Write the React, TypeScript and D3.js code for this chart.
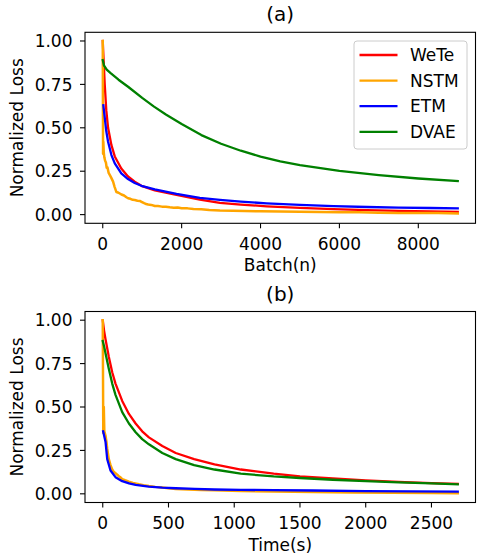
import React from 'react';
import * as d3 from 'd3';

const seriesNames = ['WeTe', 'NSTM', 'ETM', 'DVAE'];
const seriesColors = ['#ff0000', '#ffa500', '#0000ff', '#008000'];
const batchTicks = [0, 2000, 4000, 6000, 8000];
const timeTicks = [0, 500, 1000, 1500, 2000, 2500];
const yTicks = [0, 0.25, 0.5, 0.75, 1];
const yTickLabels = ['0.00', '0.25', '0.50', '0.75', '1.00'];

// Panel (a): loss vs batch
const batchWeTe: number[][] = [[0,1.0],[20,0.9],[50,0.75],[90,0.6],[135,0.5],[220,0.4],[305,0.335],[470,0.266],[640,0.22],[810,0.19],[980,0.166],[1320,0.14],[1870,0.113],[2460,0.086],[2970,0.068],[3500,0.058],[4155,0.048],[5000,0.039],[5850,0.032],[6700,0.026],[7500,0.022],[8300,0.019],[9000,0.016]];
const batchNSTM: number[][] = [[0,1.0],[8,0.35],[15,0.42],[25,0.36],[40,0.33],[60,0.31],[80,0.3],[100,0.27],[120,0.272],[150,0.24],[180,0.228],[220,0.21],[262,0.19],[300,0.16],[347,0.13],[400,0.126],[474,0.116],[540,0.11],[600,0.1],[643,0.094],[700,0.091],[760,0.085],[812,0.084],[880,0.08],[940,0.079],[982,0.074],[1050,0.066],[1100,0.061],[1150,0.058],[1230,0.056],[1320,0.05],[1400,0.049],[1500,0.046],[1600,0.045],[1700,0.042],[1800,0.04],[1900,0.041],[2000,0.037],[2150,0.036],[2300,0.032],[2500,0.031],[2700,0.027],[2970,0.024],[3300,0.022],[3600,0.021],[4000,0.019],[4500,0.018],[5000,0.016],[5500,0.015],[6000,0.013],[6500,0.013],[7000,0.011],[7500,0.01],[8000,0.009],[8500,0.009],[9000,0.007]];
const batchETM: number[][] = [[15,0.63],[40,0.58],[90,0.48],[135,0.42],[220,0.343],[305,0.295],[470,0.237],[640,0.205],[810,0.182],[980,0.166],[1320,0.145],[1870,0.12],[2460,0.097],[2970,0.085],[3500,0.075],[4155,0.065],[5000,0.056],[5850,0.049],[6700,0.044],[7500,0.04],[8300,0.038],[9000,0.036]];
const batchDVAE: number[][] = [[0,0.89],[30,0.86],[100,0.835],[200,0.815],[400,0.777],[650,0.735],[1000,0.672],[1300,0.622],[1600,0.577],[2000,0.522],[2500,0.458],[3000,0.408],[3500,0.368],[4000,0.334],[4500,0.307],[5000,0.285],[6000,0.252],[7000,0.228],[8000,0.208],[9000,0.193]];

// Panel (b): loss vs time
const timeWeTe: number[][] = [[0,1.0],[10,0.94],[21,0.89],[46,0.79],[72,0.7],[97,0.635],[148,0.535],[199,0.46],[250,0.405],[300,0.36],[351,0.325],[453,0.275],[555,0.235],[695,0.2],[850,0.17],[1050,0.14],[1300,0.116],[1500,0.101],[1750,0.089],[2000,0.078],[2250,0.069],[2500,0.062],[2700,0.058]];
const timeNSTM: number[][] = [[0,1.0],[4,0.35],[8,0.5],[12,0.36],[21,0.336],[28,0.3],[34,0.26],[40,0.23],[46,0.2],[59,0.165],[72,0.14],[85,0.125],[97,0.118],[110,0.11],[123,0.1],[135,0.095],[148,0.085],[170,0.078],[199,0.07],[230,0.063],[275,0.055],[310,0.05],[351,0.045],[400,0.04],[453,0.036],[500,0.032],[555,0.028],[650,0.025],[750,0.022],[850,0.02],[1050,0.016],[1300,0.013],[1600,0.01],[1900,0.008],[2200,0.006],[2500,0.004],[2700,0.003]];
const timeETM: number[][] = [[3,0.36],[21,0.3],[34,0.2],[59,0.134],[97,0.096],[148,0.073],[200,0.06],[250,0.051],[350,0.042],[453,0.036],[555,0.032],[700,0.028],[850,0.025],[1050,0.023],[1300,0.021],[1600,0.019],[2000,0.016],[2350,0.014],[2700,0.013]];
const timeDVAE: number[][] = [[0,0.88],[10,0.85],[21,0.81],[46,0.72],[72,0.635],[97,0.57],[148,0.47],[199,0.405],[250,0.355],[300,0.315],[351,0.285],[453,0.235],[555,0.2],[695,0.165],[850,0.14],[1050,0.116],[1300,0.1],[1500,0.091],[1750,0.081],[2000,0.073],[2250,0.066],[2500,0.06],[2700,0.055]];

const FONT = 'DejaVu Sans, sans-serif';

type PanelProps = {
  top: number;
  title: string;
  xlabel: string;
  xMax: number;
  xTicks: number[];
  series: number[][][];
  legend: boolean;
};

function Panel({ top, title, xlabel, xMax, xTicks, series, legend }: PanelProps) {
  const left = 85;
  const right = 475.5;
  const height = 191;
  const bottom = top + height;
  const x = d3.scaleLinear().domain([-0.05 * xMax, 1.05 * xMax]).range([left, right]);
  const y = d3.scaleLinear().domain([-0.05, 1.05]).range([bottom, top]);
  const line = d3.line<number[]>().x(d => x(d[0])).y(d => y(d[1]));
  const fs = 17;
  return (
    <g>
      <text x={(left + right) / 2} y={top - 11} textAnchor="middle" fontSize={20} fontFamily={FONT}>{title}</text>
      <defs>
        <clipPath id={'clip' + Math.round(top)}>
          <rect x={left} y={top} width={right - left} height={height} />
        </clipPath>
      </defs>
      <g clipPath={`url(#clip${Math.round(top)})`}>
        {series.map((s, i) => (
          <path key={i} d={line(s) || ''} fill="none" stroke={seriesColors[i]} strokeWidth={i === 1 ? 2.5 : 2.3} strokeLinejoin="round" strokeLinecap="square" />
        ))}
      </g>
      <rect x={left} y={top} width={right - left} height={height} fill="none" stroke="#000" strokeWidth={1.1} />
      {xTicks.map(t => (
        <g key={t}>
          <line x1={x(t)} x2={x(t)} y1={bottom} y2={bottom + 5} stroke="#000" strokeWidth={1.1} />
          <text x={x(t)} y={bottom + 26.5} textAnchor="middle" fontSize={fs} fontFamily={FONT}>{t}</text>
        </g>
      ))}
      {yTicks.map((t, i) => (
        <g key={t}>
          <line x1={left - 5} x2={left} y1={y(t)} y2={y(t)} stroke="#000" strokeWidth={1.1} />
          <text x={72.5} y={y(t)} dy="0.36em" textAnchor="end" fontSize={fs} fontFamily={FONT}>{yTickLabels[i]}</text>
        </g>
      ))}
      <text x={(left + right) / 2} y={bottom + 48} textAnchor="middle" fontSize={fs} fontFamily={FONT}>{xlabel}</text>
      <text transform={`translate(23,${(top + bottom) / 2}) rotate(-90)`} textAnchor="middle" fontSize={fs} fontFamily={FONT}>Normalized Loss</text>
      {legend && (
        <g>
          <rect x={354} y={41} width={113} height={108} rx={3} fill="#fff" fillOpacity={0.8} stroke="#cccccc" strokeWidth={1} />
          {seriesNames.map((n, i) => (
            <g key={n}>
              <line x1={359.5} x2={397.5} y1={55 + i * 25.6} y2={55 + i * 25.6} stroke={seriesColors[i]} strokeWidth={2.3} />
              <text x={410} y={55 + i * 25.6} dy="0.36em" fontSize={fs} fontFamily={FONT}>{n}</text>
            </g>
          ))}
        </g>
      )}
    </g>
  );
}

export default function App() {
  return (
    <svg width={477} height={555} style={{ position: 'absolute', left: 0, top: 0, background: '#fff' }}>
      <rect x={0} y={0} width={477} height={555} fill="#fff" />
      <Panel top={32.3} title="(a)" xlabel="Batch(n)" xMax={9000} xTicks={batchTicks}
        series={[batchWeTe, batchNSTM, batchETM, batchDVAE]} legend={true} />
      <Panel top={311.5} title="(b)" xlabel="Time(s)" xMax={2700} xTicks={timeTicks}
        series={[timeWeTe, timeNSTM, timeETM, timeDVAE]} legend={false} />
    </svg>
  );
}
